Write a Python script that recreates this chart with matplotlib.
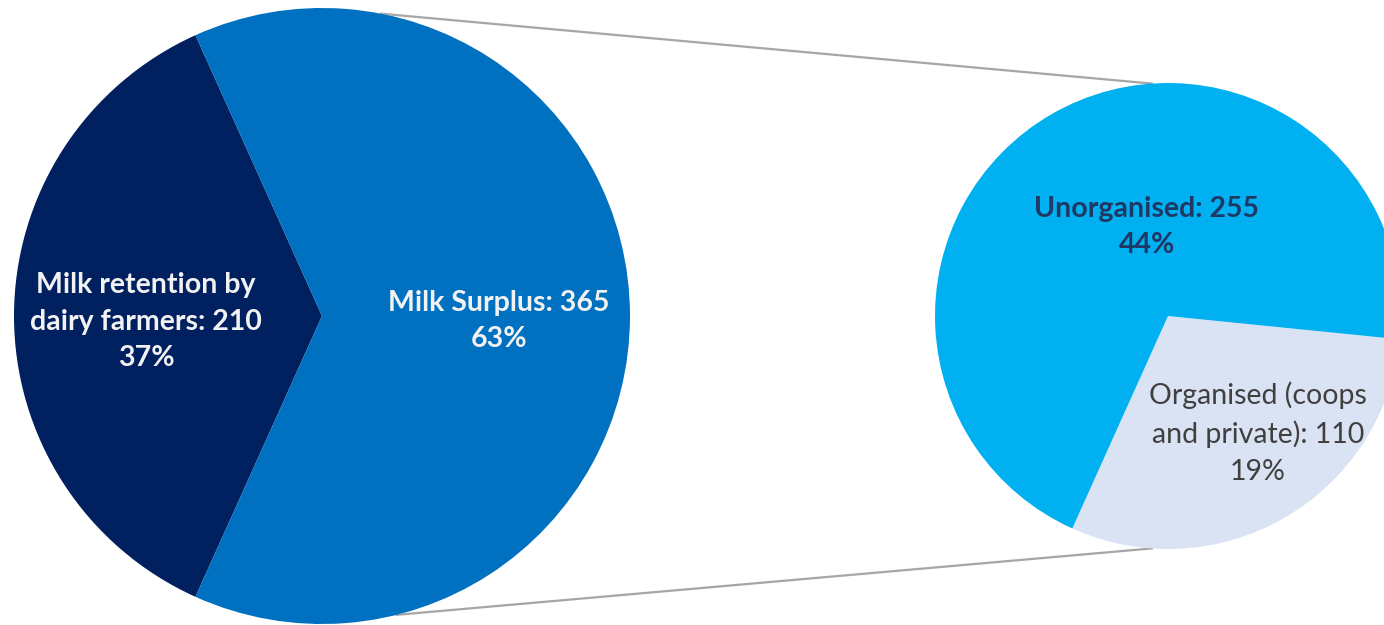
import numpy as np
import matplotlib.pyplot as plt

# milk balance (values in lakh litres per day)
main_labels = ["Milk retention by\ndairy farmers", "Milk Surplus"]
main_values = [210, 365]
main_colors = ["#002060", "#0070C0"]

sub_labels = ["Organised (coops\nand private)", "Unorganised"]
sub_values = [110, 255]
sub_colors = ["#DAE3F3", "#00B0F0"]

total = sum(main_values)

W, H = 1384, 625
fig = plt.figure(figsize=(W / 100, H / 100), dpi=100)
ax = fig.add_axes([0, 0, 1, 1])

# geometry of the two pies in pixel units
c1, r1 = (322, 309), 308
c2, r2 = (1168, 309), 233

# first pie: retention slice centred on the left
start1 = 180 - 0.5 * main_values[0] / total * 360
ax.pie(main_values, colors=main_colors, startangle=start1, center=c1, radius=r1,
       wedgeprops=dict(linewidth=0))

# second pie: breakdown of the surplus, organised slice facing lower right
start2 = -60 - 0.5 * sub_values[0] / sum(sub_values) * 360
ax.pie(sub_values, colors=sub_colors, startangle=start2, center=c2, radius=r2,
       wedgeprops=dict(linewidth=0))

# connector lines between the pies
def on_circle(c, r, deg):
    t = np.radians(deg)
    return c[0] + r * np.cos(t), c[1] + r * np.sin(t)

for a1, a2 in [(79, 94), (-76, -94)]:
    p1 = on_circle(c1, r1, a1)
    p2 = on_circle(c2, r2, a2)
    ax.plot([p1[0], p2[0]], [p1[1], p2[1]], color="#A6A6A6", lw=1.6, zorder=0)

def lab(name, v):
    return f"{name}: {v}\n{round(100 * v / total)}%"

font = ["Lato", "DejaVu Sans"]
fs = 20.5
ls = 1.5
ax.text(146, 303, lab(main_labels[0], main_values[0]), color="#F2F2F2", fontsize=fs,
        fontweight="bold", ha="center", va="center", linespacing=ls, family=font)
ax.text(499, 304, lab(main_labels[1], main_values[1]), color="#F2F2F2", fontsize=fs,
        fontweight="bold", ha="center", va="center", linespacing=ls, family=font)
ax.text(1147, 398, lab(sub_labels[1], sub_values[1]), color="#1F3864", fontsize=fs,
        fontweight="bold", ha="center", va="center", linespacing=ls, family=font)
ax.text(1258, 192, lab(sub_labels[0], sub_values[0]), color="#404040", fontsize=fs,
        ha="center", va="center", linespacing=ls, family=font)

ax.set_xlim(0, W)
ax.set_ylim(0, H)
ax.set_aspect("equal")
ax.axis("off")

fig.savefig("out.png", dpi=100, facecolor="white")
